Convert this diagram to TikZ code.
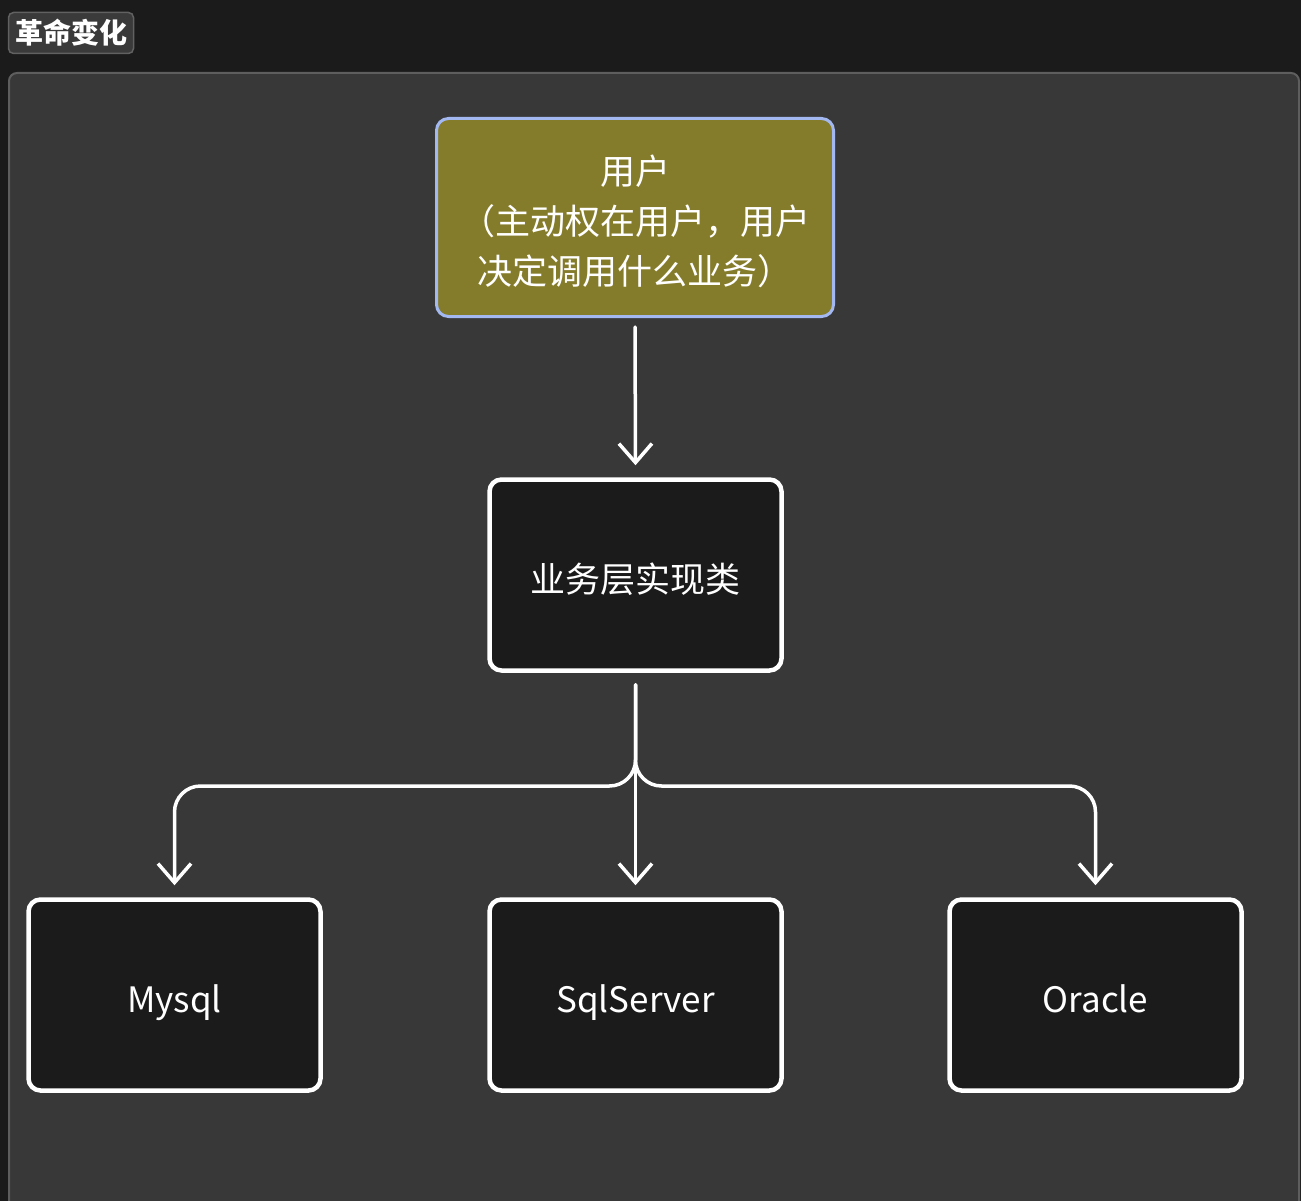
\documentclass[tikz,border=0pt]{standalone}
\usepackage{fontspec}
\setmainfont{Noto Sans CJK SC}
\usetikzlibrary{arrows.meta}
\definecolor{bgc}{HTML}{1B1B1B}
\definecolor{panelc}{HTML}{383838}
\definecolor{panelb}{HTML}{5E5E5E}
\definecolor{tagc}{HTML}{3A3A3A}
\definecolor{tagb}{HTML}{616161}
\definecolor{olivec}{HTML}{857C2B}
\definecolor{blueb}{HTML}{A3B8F0}
\definecolor{darkbox}{HTML}{1B1B1B}
\begin{document}
\begin{tikzpicture}[x=1pt,y=-1pt,
  tag/.style={draw=tagb,fill=tagc,line width=1.5pt,rounded corners=5pt,
    minimum width=125pt,minimum height=41pt,inner sep=0pt,text=white,
    font=\bfseries\fontsize{28}{30}\selectfont},
  userbox/.style={draw=blueb,fill=olivec,line width=3pt,rounded corners=12pt,
    minimum width=397pt,minimum height=198pt,inner sep=0pt,text=white,align=center,
    font=\fontsize{35}{50}\selectfont},
  darkbox/.style={draw=white,fill=darkbox,line width=4.5pt,rounded corners=12pt,
    minimum width=292pt,minimum height=191pt,inner sep=0pt,text=white,
    text height=38pt,text depth=4pt,
    font=\fontsize{35}{40}\selectfont},
  conn/.style={draw=white,line width=3.5pt,line cap=round,line join=round,
    -{Straight Barb[length=19pt,width=33pt,line width=3.5pt]}}
]
\useasboundingbox (0,0) rectangle (1301,1201);
\clip (0,0) rectangle (1301,1201);
\fill[bgc] (0,0) rectangle (1301,1201);
\draw[draw=panelb,fill=panelc,line width=2pt,rounded corners=8pt] (9,73) rectangle (1299,1240);

\node[tag] (title) at (71,33) {革命变化};

\node[userbox] (user) at (635,217.5) {\rule{0pt}{38pt}用户\\（主动权在用户，用户\\决定调用什么业务）};
\node[darkbox] (biz) at (635.5,575) {业务层实现类};
\node[darkbox] (mysql) at (174.5,995) {Mysql};
\node[darkbox] (sqlserver) at (635.5,995) {SqlServer};
\node[darkbox] (oracle) at (1095.5,995) {Oracle};

\coordinate (split) at (635.5,786);

\draw[conn] ([yshift=-9pt]user.south) -- ([yshift=12pt]biz.north);
\draw[conn,rounded corners=26pt] ([yshift=-12pt]biz.south) -- (split) -- (split -| mysql.north) -- ([yshift=12pt]mysql.north);
\draw[conn,rounded corners=26pt] ([yshift=-12pt]biz.south) -- (split) -- (split -| oracle.north) -- ([yshift=12pt]oracle.north);
\draw[conn] ([yshift=-12pt]biz.south) -- ([yshift=12pt]sqlserver.north);
\end{tikzpicture}
\end{document}
